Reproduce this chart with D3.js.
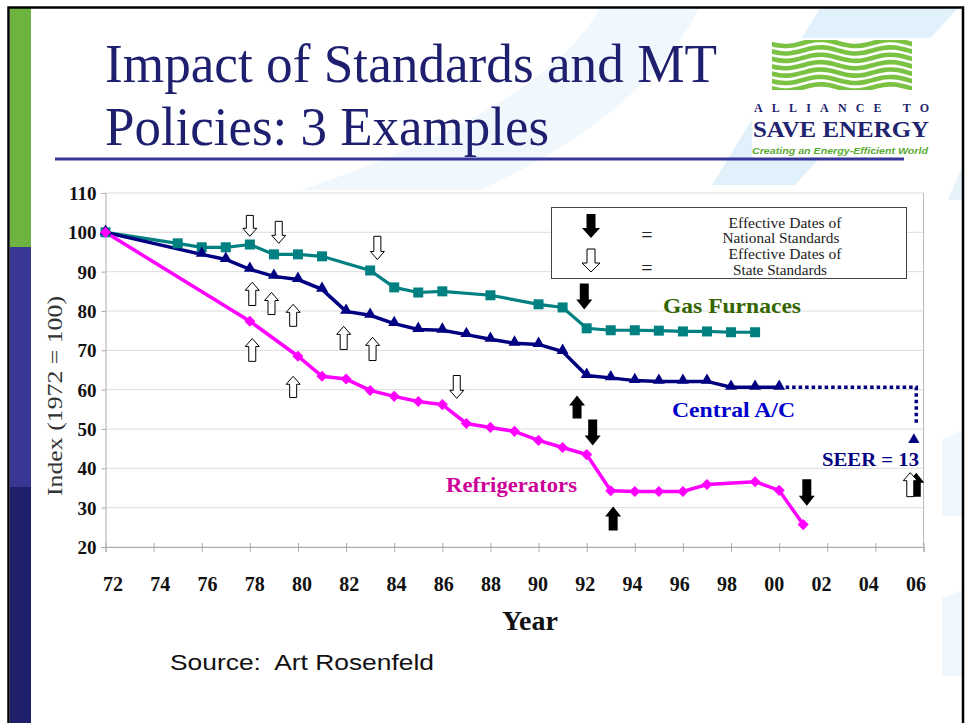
<!DOCTYPE html>
<html>
<head>
<meta charset="utf-8">
<script src="https://cdn.jsdelivr.net/npm/d3@7"></script>
<style>
  body { margin: 0; background: #fff; }
  svg { display: block; }
</style>
</head>
<body>
<div id="slide"></div>
<script>
// Impact of Standards and MT Policies: index of energy use, 1972 = 100

// gas furnaces (teal squares)
const gasYears = [1972, 1975, 1976, 1977, 1978, 1979, 1980, 1981, 1983, 1984, 1985, 1986, 1988, 1990, 1991, 1992, 1993, 1994, 1995, 1996, 1997, 1998, 1999];
const gasIndex = [100, 97.2, 96.2, 96.2, 96.9, 94.4, 94.4, 93.9, 90.3, 86.0, 84.7, 85.0, 84.0, 81.7, 80.9, 75.6, 75.1, 75.1, 75.0, 74.8, 74.8, 74.6, 74.6];

// central A/C (navy triangles)
const acYears = [1972, 1976, 1977, 1978, 1979, 1980, 1981, 1982, 1983, 1984, 1985, 1986, 1987, 1988, 1989, 1990, 1991, 1992, 1993, 1994, 1995, 1996, 1997, 1998, 1999, 2000];
const acIndex = [100, 94.4, 93.1, 90.6, 88.8, 88.0, 85.5, 79.9, 78.9, 76.8, 75.3, 75.1, 74.0, 72.8, 71.8, 71.5, 69.7, 63.6, 63.0, 62.3, 62.1, 62.1, 62.1, 60.6, 60.6, 60.6];

// refrigerators (magenta diamonds)
const fridgeYears = [1972, 1978, 1980, 1981, 1982, 1983, 1984, 1985, 1986, 1987, 1988, 1989, 1990, 1991, 1992, 1993, 1994, 1995, 1996, 1997, 1999, 2000, 2001];
const fridgeIndex = [100, 77.4, 68.5, 63.4, 62.7, 59.8, 58.3, 57.0, 56.2, 51.4, 50.4, 49.4, 47.1, 45.3, 43.5, 34.3, 34.1, 34.1, 34.1, 35.9, 36.6, 34.4, 25.7];

// SEER = 13 projection (dotted)
const seerYears = [2000, 2005.7, 2005.7];
const seerIndex = [60.6, 60.6, 50.8];

// axis ticks
const yTicks = [20, 30, 40, 50, 60, 70, 80, 90, 100, 110];
const xTicks = [1972, 1974, 1976, 1978, 1980, 1982, 1984, 1986, 1988, 1990, 1992, 1994, 1996, 1998, 2000, 2002, 2004, 2006];
const xTickLabels = ["72", "74", "76", "78", "80", "82", "84", "86", "88", "90", "92", "94", "96", "98", "00", "02", "04", "06"];

// effective dates of state standards (outline arrows): year, tail value, tip value
const stateArrows = [
    { year: 1978.0, from: 104.3, to: 99.0 },
    { year: 1979.2, from: 102.8, to: 97.2 },
    { year: 1983.3, from: 99.0, to: 93.1 },
    { year: 1986.6, from: 63.6, to: 57.8 },
    { year: 1978.1, from: 81.4, to: 87.3 },
    { year: 1978.9, from: 79.1, to: 84.7 },
    { year: 1979.8, from: 76.1, to: 81.7 },
    { year: 1981.9, from: 70.2, to: 76.1 },
    { year: 1978.1, from: 67.2, to: 73.0 },
    { year: 1983.1, from: 67.4, to: 73.3 },
    { year: 1979.8, from: 58.0, to: 63.4 },
    { year: 2005.45, from: 32.8, to: 38.9 }
];

// effective dates of national standards (black arrows)
const nationalArrows = [
    { year: 1991.9, from: 87.0, to: 80.4 },
    { year: 1991.6, from: 52.7, to: 58.5 },
    { year: 1992.25, from: 52.4, to: 45.8 },
    { year: 1993.1, from: 24.2, to: 30.3 },
    { year: 2001.15, from: 37.2, to: 30.5 },
    { year: 2005.7, from: 32.8, to: 38.9 }
];

// legend text lines
const legendLines = ["Effective Dates of", "National Standards", "Effective Dates of", "State Standards"];

const W = 969, H = 723;
const svg = d3.select("#slide").append("svg")
    .attr("width", W)
    .attr("height", H);

// ---- slide background ----
svg.append("rect").attr("width", W).attr("height", H).attr("fill", "#fff");

// light blue swooshes
svg.append("path")
    .attr("d", "M600,8 L700,8 C660,80 590,140 480,190 L300,190 C450,140 560,80 600,8 Z")
    .attr("fill", "#f0f8fd");
svg.append("path")
    .attr("d", "M820,8 L958,8 L795,185 L712,185 Z")
    .attr("fill", "#e0f1fb");
svg.append("path")
    .attr("d", "M963,165 L963,200 L948,200 Z")
    .attr("fill", "#e6f3fb");
svg.append("path")
    .attr("d", "M942,440 L963,430 L963,515 L942,517 Z")
    .attr("fill", "#f1f8fd");
svg.append("path")
    .attr("d", "M942,598 L963,590 L963,675 L942,677 Z")
    .attr("fill", "#f1f8fd");

// left colour bar
svg.append("rect").attr("x", 10).attr("y", 8).attr("width", 21).attr("height", 239).attr("fill", "#6db33f");
svg.append("rect").attr("x", 10).attr("y", 247).attr("width", 21).attr("height", 240).attr("fill", "#383894");
svg.append("rect").attr("x", 10).attr("y", 487).attr("width", 21).attr("height", 236).attr("fill", "#1f206b");

// frame
svg.append("path")
    .attr("d", "M8.5,723 L8.5,7.5 L963,7.5 L963,723")
    .attr("fill", "none")
    .attr("stroke", "#000")
    .attr("stroke-width", 2.5);

// ---- title ----
const title = svg.append("g")
    .attr("font-family", "'Liberation Serif', 'Times New Roman', serif")
    .attr("font-size", 55)
    .attr("fill", "#1f1f70");
title.append("text").attr("x", 105).attr("y", 82)
    .attr("textLength", 612).attr("lengthAdjust", "spacingAndGlyphs")
    .text("Impact of Standards and MT");
title.append("text").attr("x", 105).attr("y", 145)
    .attr("textLength", 444).attr("lengthAdjust", "spacingAndGlyphs")
    .text("Policies: 3 Examples");

// logo
const logo = svg.append("g");
logo.append("rect").attr("x", 752).attr("y", 38).attr("width", 178).attr("height", 120).attr("fill", "#fff");
logo.append("clipPath").attr("id", "waveClip")
    .append("rect").attr("x", 772).attr("y", 40).attr("width", 140).attr("height", 50);
const waveLine = d3.line().curve(d3.curveBasis);
const waveRows = d3.range(7);
logo.append("g").attr("clip-path", "url(#waveClip)")
    .selectAll("path")
    .data(waveRows)
    .enter()
    .append("path")
    .attr("d", i => waveLine(d3.range(0, 30).map(k => [768 + k * 5.5, 43 + i * 7.4 + 3.2 * Math.sin(k * 5.5 / 70 * 2 * Math.PI)])))
    .attr("fill", "none")
    .attr("stroke", "#7cc242")
    .attr("stroke-width", 4.6);
logo.append("text").attr("x", 754).attr("y", 112)
    .attr("font-family", "'Liberation Serif', serif").attr("font-weight", "bold").attr("font-size", 12)
    .attr("fill", "#1f2470")
    .attr("textLength", 175).attr("lengthAdjust", "spacing")
    .text("ALLIANCE TO");
logo.append("text").attr("x", 753).attr("y", 137)
    .attr("font-family", "'Liberation Serif', serif").attr("font-weight", "bold").attr("font-size", 24)
    .attr("fill", "#1f2470")
    .attr("textLength", 176).attr("lengthAdjust", "spacingAndGlyphs")
    .text("SAVE ENERGY");
logo.append("text").attr("x", 752).attr("y", 154)
    .attr("font-family", "'Liberation Sans', sans-serif").attr("font-weight", "bold").attr("font-style", "italic").attr("font-size", 9)
    .attr("fill", "#5aaa32")
    .attr("textLength", 176).attr("lengthAdjust", "spacingAndGlyphs")
    .text("Creating an Energy-Efficient World");

// title underline
svg.append("line")
    .attr("x1", 55).attr("x2", 904).attr("y1", 159).attr("y2", 159)
    .attr("stroke", "#35359a").attr("stroke-width", 3);

// ---- chart ----
const x = d3.scaleLinear().domain([1972, 2006]).range([105.5, 923.5]);
const xLabel = d3.scaleLinear().domain([1972, 2006]).range([113, 916]);
const y = d3.scaleLinear().domain([20, 110]).range([547, 193]);

const chart = svg.append("g");
chart.append("rect")
    .attr("x", x(1972)).attr("y", y(110))
    .attr("width", x(2006) - x(1972)).attr("height", y(20) - y(110))
    .attr("fill", "#fff");

// gridlines
chart.selectAll(".grid")
    .data(yTicks)
    .enter()
    .append("line")
    .attr("class", "grid")
    .attr("x1", x(1972)).attr("x2", x(2006))
    .attr("y1", d => y(d)).attr("y2", d => y(d))
    .attr("stroke", "#dcdcdc").attr("stroke-width", 1);

// y axis
const yAxis = chart.append("g")
    .attr("transform", "translate(" + x(1972) + ",0)")
    .call(d3.axisLeft(y).tickValues(yTicks).tickSize(4).tickPadding(5));
yAxis.select(".domain").attr("stroke", "#aaa");
yAxis.selectAll(".tick line").attr("stroke", "#aaa");
yAxis.selectAll("text")
    .attr("font-family", "'Liberation Serif', serif")
    .attr("font-weight", "bold")
    .attr("font-size", 19)
    .attr("fill", "#111")
    .attr("dy", "0.35em");

// right edge
chart.append("line")
    .attr("x1", x(2006)).attr("x2", x(2006)).attr("y1", y(110)).attr("y2", y(20))
    .attr("stroke", "#bbb");

// x axis
const xAxis = chart.append("g")
    .attr("transform", "translate(0," + y(20) + ")")
    .call(d3.axisBottom(x).tickValues(xTicks).tickSize(5).tickFormat(""));
xAxis.select(".domain").attr("stroke", "#aaa");
xAxis.selectAll(".tick line").attr("stroke", "#aaa").attr("y1", -4);

chart.selectAll(".xlab")
    .data(xTicks)
    .enter()
    .append("text")
    .attr("class", "xlab")
    .attr("x", d => xLabel(d))
    .attr("y", 591)
    .attr("text-anchor", "middle")
    .attr("font-family", "'Liberation Serif', serif")
    .attr("font-weight", "bold")
    .attr("font-size", 20)
    .attr("fill", "#111")
    .text((d, i) => xTickLabels[i]);

// axis titles
chart.append("text")
    .attr("x", 530).attr("y", 630)
    .attr("text-anchor", "middle")
    .attr("font-family", "'Liberation Serif', serif")
    .attr("font-weight", "bold")
    .attr("font-size", 28)
    .attr("fill", "#111")
    .text("Year");
chart.append("text")
    .attr("transform", "translate(62,396) rotate(-90)")
    .attr("text-anchor", "middle")
    .attr("font-family", "'Liberation Serif', serif")
    .attr("font-size", 22)
    .attr("fill", "#333")
    .attr("textLength", 200).attr("lengthAdjust", "spacingAndGlyphs")
    .text("Index (1972 = 100)");

// series lines
const line = d3.line().x(d => x(d[0])).y(d => y(d[1]));
const gasPts = gasYears.map((d, i) => [d, gasIndex[i]]);
const acPts = acYears.map((d, i) => [d, acIndex[i]]);
const fridgePts = fridgeYears.map((d, i) => [d, fridgeIndex[i]]);
const seerPts = seerYears.map((d, i) => [d, seerIndex[i]]);

chart.append("path").datum(seerPts)
    .attr("d", line)
    .attr("fill", "none")
    .attr("stroke", "#000080")
    .attr("stroke-width", 3.5)
    .attr("stroke-dasharray", "3.5,3");
chart.append("path")
    .attr("transform", "translate(" + x(2005.6) + "," + (y(49.3) + 8) + ")")
    .attr("d", d3.symbol().type(d3.symbolTriangle).size(55))
    .attr("fill", "#000080");

chart.append("path").datum(gasPts)
    .attr("d", line).attr("fill", "none")
    .attr("stroke", "#008080").attr("stroke-width", 3.2);
chart.append("path").datum(acPts)
    .attr("d", line).attr("fill", "none")
    .attr("stroke", "#000080").attr("stroke-width", 3.5);
chart.append("path").datum(fridgePts)
    .attr("d", line).attr("fill", "none")
    .attr("stroke", "#ff00ff").attr("stroke-width", 3.5);

// markers
chart.selectAll(".gasMark")
    .data(gasPts)
    .enter()
    .append("path")
    .attr("class", "gasMark")
    .attr("transform", d => "translate(" + x(d[0]) + "," + y(d[1]) + ")")
    .attr("d", d3.symbol().type(d3.symbolSquare).size(100))
    .attr("fill", "#008080");
chart.selectAll(".acMark")
    .data(acPts)
    .enter()
    .append("path")
    .attr("class", "acMark")
    .attr("transform", d => "translate(" + x(d[0]) + "," + (y(d[1]) - 1) + ")")
    .attr("d", d3.symbol().type(d3.symbolTriangle).size(62))
    .attr("fill", "#000080");
chart.selectAll(".fridgeMark")
    .data(fridgePts)
    .enter()
    .append("path")
    .attr("class", "fridgeMark")
    .attr("transform", d => "translate(" + x(d[0]) + "," + y(d[1]) + ") rotate(45)")
    .attr("d", d3.symbol().type(d3.symbolSquare).size(62))
    .attr("fill", "#ff00ff");

// arrows
function arrowPath(cx, y1, y2, sw, hw, hl) {
    const s = y2 > y1 ? 1 : -1;
    const yb = y2 - s * hl;
    return "M" + (cx - sw) + "," + y1 + " L" + (cx + sw) + "," + y1 + " L" + (cx + sw) + "," + yb +
        " L" + (cx + hw) + "," + yb + " L" + cx + "," + y2 + " L" + (cx - hw) + "," + yb +
        " L" + (cx - sw) + "," + yb + " Z";
}

chart.selectAll(".natArrow")
    .data(nationalArrows)
    .enter()
    .append("path")
    .attr("class", "natArrow")
    .attr("d", d => arrowPath(x(d.year), y(d.from), y(d.to), 4.5, 8, 10))
    .attr("fill", "#000");
chart.selectAll(".stateArrow")
    .data(stateArrows)
    .enter()
    .append("path")
    .attr("class", "stateArrow")
    .attr("d", d => arrowPath(x(d.year), y(d.from), y(d.to), 3.5, 7, 8))
    .attr("fill", "#fff")
    .attr("stroke", "#000")
    .attr("stroke-width", 1);

// legend box
const legend = chart.append("g");
legend.append("rect")
    .attr("x", 551.5).attr("y", 207.5).attr("width", 355).attr("height", 71)
    .attr("fill", "#fff").attr("stroke", "#444").attr("stroke-width", 1);
legend.append("path").attr("d", arrowPath(591, 214, 238, 4.5, 9, 10)).attr("fill", "#000");
legend.append("path").attr("d", arrowPath(591, 249, 272, 4, 9, 9))
    .attr("fill", "#fff").attr("stroke", "#000").attr("stroke-width", 1);
legend.selectAll(".eq")
    .data([242, 275])
    .enter()
    .append("text")
    .attr("class", "eq")
    .attr("x", 647).attr("y", d => d)
    .attr("text-anchor", "middle")
    .attr("font-family", "'Liberation Serif', serif")
    .attr("font-size", 20)
    .attr("fill", "#222")
    .text("=");
const legendBase = [228, 243, 259, 275];
const legendWidth = [113, 117, 113, 94];
const legendMid = [785, 781, 785, 780];
legend.selectAll(".legtxt")
    .data(legendLines)
    .enter()
    .append("text")
    .attr("class", "legtxt")
    .attr("x", (d, i) => legendMid[i] - legendWidth[i] / 2)
    .attr("y", (d, i) => legendBase[i])
    .attr("font-family", "'Liberation Serif', serif")
    .attr("font-size", 14.5)
    .attr("fill", "#222")
    .attr("textLength", (d, i) => legendWidth[i])
    .attr("lengthAdjust", "spacingAndGlyphs")
    .text(d => d);

// series labels
const serif = "'Liberation Serif', 'Times New Roman', serif";
chart.append("text").attr("x", 663).attr("y", 313)
    .attr("font-family", serif).attr("font-weight", "bold").attr("font-size", 21)
    .attr("fill", "#336600")
    .attr("textLength", 138).attr("lengthAdjust", "spacingAndGlyphs")
    .text("Gas Furnaces");
chart.append("text").attr("x", 672).attr("y", 417)
    .attr("font-family", serif).attr("font-weight", "bold").attr("font-size", 21)
    .attr("fill", "#0000cc")
    .attr("textLength", 123).attr("lengthAdjust", "spacingAndGlyphs")
    .text("Central A/C");
chart.append("text").attr("x", 822).attr("y", 466)
    .attr("font-family", serif).attr("font-weight", "bold").attr("font-size", 19)
    .attr("fill", "#000080")
    .attr("textLength", 97).attr("lengthAdjust", "spacingAndGlyphs")
    .text("SEER = 13");
chart.append("text").attr("x", 446).attr("y", 492)
    .attr("font-family", serif).attr("font-weight", "bold").attr("font-size", 21)
    .attr("fill", "#cc0099")
    .attr("textLength", 131).attr("lengthAdjust", "spacingAndGlyphs")
    .text("Refrigerators");

// source
svg.append("text").attr("x", 170).attr("y", 670)
    .attr("font-family", "'Liberation Sans', Arial, sans-serif")
    .attr("font-size", 22)
    .attr("fill", "#111")
    .attr("textLength", 264).attr("lengthAdjust", "spacingAndGlyphs")
    .text("Source:\u00a0 Art Rosenfeld");
</script>
</body>
</html>
